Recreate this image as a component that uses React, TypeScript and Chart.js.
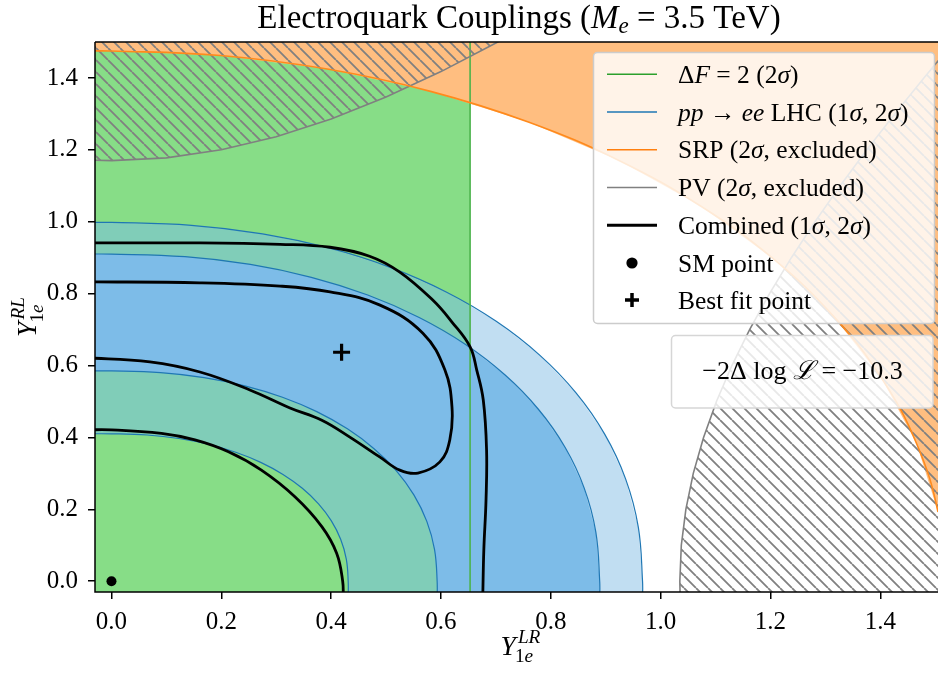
import React, { useEffect, useRef } from 'react';
import { Chart, registerables } from 'chart.js';

Chart.register(...registerables);

const FONT = '"Liberation Serif", "Times New Roman", "DejaVu Serif", serif';

// ---- axes ----
const xMin = -0.03, xMax = 1.505, yMin = -0.03, yMax = 1.5;
const xTicks = [0, 0.2, 0.4, 0.6, 0.8, 1.0, 1.2, 1.4];
const yTicks = [0, 0.2, 0.4, 0.6, 0.8, 1.0, 1.2, 1.4];

// ---- ΔF = 2 (2σ) allowed band: Y_LR < deltaFX ----
const deltaFX = 0.653;
const e4YAtDeltaF = 0.766;

// ---- pp -> ee LHC contour boundaries (quarter curves) ----
const e1X = [0, 0.0649, 0.1226, 0.1764, 0.2262, 0.2717, 0.3123, 0.3475, 0.377, 0.4004, 0.4173, 0.4276, 0.431];
const e1Y = [0.41, 0.4067, 0.397, 0.3809, 0.3587, 0.3306, 0.297, 0.2584, 0.2152, 0.1678, 0.1166, 0.0617, 0];
const e2X = [0, 0.0892, 0.1687, 0.2427, 0.3113, 0.3738, 0.4296, 0.4781, 0.5188, 0.5509, 0.5742, 0.5883, 0.593];
const e2Y = [0.585, 0.5803, 0.5665, 0.5435, 0.5118, 0.4717, 0.4238, 0.3687, 0.3071, 0.2394, 0.1664, 0.088, 0];
const e3X = [0, 0.1338, 0.2529, 0.3639, 0.4666, 0.5603, 0.6441, 0.7168, 0.7777, 0.8259, 0.8608, 0.8819, 0.889];
const e3Y = [0.91, 0.9027, 0.8812, 0.8454, 0.7961, 0.7337, 0.6593, 0.5736, 0.4777, 0.3725, 0.2589, 0.137, 0];
const e4X = [0, 0.1455, 0.2751, 0.3958, 0.5076, 0.6095, 0.7006, 0.7797, 0.8459, 0.8983, 0.9363, 0.9593, 0.967];
const e4Y = [0.998, 0.99, 0.9664, 0.9271, 0.8731, 0.8047, 0.7231, 0.629, 0.5239, 0.4085, 0.2839, 0.1502, 0];

// ---- SRP excluded (outside this curve) ----
const srpX = [0, 0.1981, 0.3929, 0.5809, 0.759, 0.9241, 1.0734, 1.2043, 1.3146, 1.4024, 1.4663, 1.505, 1.518];
const srpY = [1.475, 1.4624, 1.4247, 1.3627, 1.2774, 1.1705, 1.043, 0.898, 0.7375, 0.5645, 0.3818, 0.1925, 0];

// ---- PV excluded (two hatched regions) ----
const pvAX = [-0.05, 0, 0.1, 0.2, 0.3, 0.4, 0.5, 0.6, 0.7, 0.762];
const pvAY = [1.172, 1.17, 1.1776, 1.2001, 1.2366, 1.286, 1.3468, 1.4177, 1.4971, 1.55];
const pvBX = [1.0356, 1.0349, 1.0376, 1.0459, 1.0594, 1.0781, 1.1016, 1.1297, 1.162, 1.1982, 1.238, 1.281, 1.3269, 1.3754, 1.4263, 1.4793, 1.5065];
const pvBY = [-0.05, 0, 0.1, 0.2, 0.3, 0.4, 0.5, 0.6, 0.7, 0.8, 0.9, 1.0, 1.1, 1.2, 1.3, 1.4, 1.45];

// ---- Combined contours ----
const comb1X = [-0.05, 0.161, 0.307, 0.398, 0.489, 0.567, 0.607, 0.62, 0.616, 0.598, 0.558, 0.525, 0.489, 0.434, 0.383, 0.325, 0.252, 0.161, 0.07, -0.05];
const comb1Y = [0.833, 0.83, 0.821, 0.805, 0.768, 0.69, 0.588, 0.485, 0.393, 0.332, 0.301, 0.309, 0.345, 0.401, 0.448, 0.482, 0.532, 0.582, 0.61, 0.622];
const comb2OutX = [-0.05, 0.161, 0.307, 0.398, 0.47, 0.525, 0.585, 0.62, 0.653, 0.665, 0.677, 0.683, 0.682, 0.678, 0.676];
const comb2OutY = [0.941, 0.941, 0.937, 0.929, 0.904, 0.86, 0.782, 0.721, 0.652, 0.588, 0.504, 0.365, 0.226, 0.087, -0.05];
const comb2InX = [-0.05, 0, 0.091, 0.152, 0.213, 0.273, 0.334, 0.383, 0.41, 0.421, 0.422];
const comb2InY = [0.421, 0.421, 0.411, 0.393, 0.36, 0.309, 0.235, 0.152, 0.078, 0.0, -0.05];

// ---- points ----
const smPoint = { x: 0, y: 0 };
const bestFitPoint = { x: 0.419, y: 0.637 };
const likelihoodText = '−10.3';

type Seg = { t: string; it?: boolean; sc?: number; dy?: number };

const titleSegs: Seg[] = [
  { t: 'Electroquark Couplings (' },
  { t: 'M', it: true },
  { t: 'e', it: true, sc: 0.7, dy: 5 },
  { t: ' = 3.5 TeV)' },
];

const legendLabels: Seg[][] = [
  [{ t: 'Δ' }, { t: 'F', it: true }, { t: ' = 2 (2' }, { t: 'σ', it: true }, { t: ')' }],
  [{ t: 'pp', it: true }, { t: ' → ' }, { t: 'ee', it: true }, { t: ' LHC (1' }, { t: 'σ', it: true }, { t: ', 2' }, { t: 'σ', it: true }, { t: ')' }],
  [{ t: 'SRP (2' }, { t: 'σ', it: true }, { t: ', excluded)' }],
  [{ t: 'PV (2' }, { t: 'σ', it: true }, { t: ', excluded)' }],
  [{ t: 'Combined (1' }, { t: 'σ', it: true }, { t: ', 2' }, { t: 'σ', it: true }, { t: ')' }],
  [{ t: 'SM point' }],
  [{ t: 'Best fit point' }],
];
const legendHandles = [
  { kind: 'line', color: '#2ca02c', w: 1.5 },
  { kind: 'line', color: '#1f77b4', w: 1.5 },
  { kind: 'line', color: '#ff7f0e', w: 1.5 },
  { kind: 'line', color: '#808080', w: 1.5 },
  { kind: 'line', color: '#000000', w: 3 },
  { kind: 'dot', color: '#000000', w: 0 },
  { kind: 'plus', color: '#000000', w: 3.5 },
];

const annotSegs: Seg[] = [{ t: '−2Δ log ' }, { t: 'ℒ', it: true }, { t: ' = ' + likelihoodText }];

const COL = {
  green: '#87dd87',
  teal: '#80cdb8',
  blue: '#7dbce8',
  lightBlue: '#c1def2',
  orange: '#ffbe80',
  blueLine: '#1f77b4',
  greenLine: '#4cb34c',
  orangeLine: '#ff8a1c',
  gray: '#808080',
};

const P = (xs: number[], ys: number[]) => xs.map((x, i) => ({ x, y: ys[i] }));

function fontOf(size: number, s: Seg) {
  return `${s.it ? 'italic ' : ''}${(size * (s.sc ?? 1)).toFixed(1)}px ${FONT}`;
}

function drawRich(ctx: CanvasRenderingContext2D, segs: Seg[], x: number, y: number, size: number, align: string) {
  let w = 0;
  const ws: number[] = [];
  for (const s of segs) {
    ctx.font = fontOf(size, s);
    const m = ctx.measureText(s.t).width;
    ws.push(m);
    w += m;
  }
  let cx = align === 'center' ? x - w / 2 : x;
  ctx.textAlign = 'left';
  ctx.textBaseline = 'alphabetic';
  ctx.fillStyle = '#000';
  segs.forEach((s, i) => {
    ctx.font = fontOf(size, s);
    ctx.fillText(s.t, cx, y + (s.dy ?? 0));
    cx += ws[i];
  });
}

function drawAxisSym(ctx: CanvasRenderingContext2D, sup: string, x: number, y: number, size: number) {
  const base: Seg = { t: 'Y', it: true };
  const supS: Seg = { t: sup, it: true, sc: 0.7 };
  const one: Seg = { t: '1', sc: 0.7 };
  const e: Seg = { t: 'e', it: true, sc: 0.7 };
  ctx.font = fontOf(size, base);
  const wb = ctx.measureText('Y').width;
  ctx.font = fontOf(size, supS);
  const wsup = ctx.measureText(sup).width;
  ctx.font = fontOf(size, one);
  const w1 = ctx.measureText('1').width;
  ctx.font = fontOf(size, e);
  const we = ctx.measureText('e').width;
  const total = wb + Math.max(wsup + 2, w1 + we);
  const x0 = x - total / 2;
  ctx.textAlign = 'left';
  ctx.textBaseline = 'alphabetic';
  ctx.fillStyle = '#000';
  ctx.font = fontOf(size, base);
  ctx.fillText('Y', x0, y);
  ctx.font = fontOf(size, supS);
  ctx.fillText(sup, x0 + wb + 2, y - 12);
  ctx.font = fontOf(size, one);
  ctx.fillText('1', x0 + wb - 1, y + 7);
  ctx.font = fontOf(size, e);
  ctx.fillText('e', x0 + wb - 1 + w1, y + 7);
}

function roundBox(ctx: CanvasRenderingContext2D, x: number, y: number, w: number, h: number, r: number, stroke: string) {
  ctx.beginPath();
  ctx.moveTo(x + r, y);
  ctx.lineTo(x + w - r, y);
  ctx.arcTo(x + w, y, x + w, y + r, r);
  ctx.lineTo(x + w, y + h - r);
  ctx.arcTo(x + w, y + h, x + w - r, y + h, r);
  ctx.lineTo(x + r, y + h);
  ctx.arcTo(x, y + h, x, y + h - r, r);
  ctx.lineTo(x, y + r);
  ctx.arcTo(x, y, x + r, y, r);
  ctx.closePath();
  ctx.fillStyle = 'rgba(255,255,255,0.82)';
  ctx.fill();
  ctx.strokeStyle = stroke;
  ctx.lineWidth = 1.5;
  ctx.stroke();
}

const decor = {
  id: 'decor',
  afterDatasetsDraw(chart: any) {
    const ctx: CanvasRenderingContext2D = chart.ctx;
    const a = chart.chartArea;
    ctx.save();
    // legend
    const lx = a.right - 344.5, ly = a.top + 10.5;
    roundBox(ctx, lx, ly, 341, 271, 4, '#cccccc');
    const rows = [74.3, 112, 149.7, 187.5, 225.3, 263, 300];
    legendHandles.forEach((h, i) => {
      const yy = rows[i] - 42 + a.top;
      const hx0 = lx + 13.5, hx1 = lx + 63.5, hc = (hx0 + hx1) / 2;
      ctx.strokeStyle = h.color;
      ctx.fillStyle = h.color;
      if (h.kind === 'line') {
        ctx.lineWidth = h.w;
        ctx.beginPath();
        ctx.moveTo(hx0, yy);
        ctx.lineTo(hx1, yy);
        ctx.stroke();
      } else if (h.kind === 'dot') {
        ctx.beginPath();
        ctx.arc(hc, yy, 5.6, 0, Math.PI * 2);
        ctx.fill();
      } else {
        ctx.lineWidth = h.w;
        ctx.beginPath();
        ctx.moveTo(hc - 7, yy);
        ctx.lineTo(hc + 7, yy);
        ctx.moveTo(hc, yy - 7);
        ctx.lineTo(hc, yy + 7);
        ctx.stroke();
      }
      drawRich(ctx, legendLabels[i], lx + 84.5, yy + 8.5, 25.5, 'left');
    });
    // annotation box
    const bx = a.right - 266.5, by = a.top + 293.5;
    roundBox(ctx, bx, by, 261.5, 72.5, 4, '#d6d6d6');
    drawRich(ctx, annotSegs, bx + 131, by + 43.5, 26, 'center');
    ctx.restore();
  },
  afterDraw(chart: any) {
    const ctx: CanvasRenderingContext2D = chart.ctx;
    const a = chart.chartArea;
    ctx.save();
    ctx.strokeStyle = '#000';
    ctx.lineWidth = 1.5;
    ctx.beginPath();
    ctx.moveTo(a.left, a.top);
    ctx.lineTo(a.right + 2, a.top);
    ctx.moveTo(a.left, a.top);
    ctx.lineTo(a.left, a.bottom);
    ctx.lineTo(a.right + 2, a.bottom);
    ctx.stroke();
    // title
    drawRich(ctx, titleSegs, 519, 28, 33, 'center');
    // x label
    drawAxisSym(ctx, 'LR', (a.left + a.right) / 2 + 4, 655, 27.5);
    // y label
    ctx.save();
    ctx.translate(36, (a.top + a.bottom) / 2);
    ctx.rotate(-Math.PI / 2);
    drawAxisSym(ctx, 'RL', 0, 0, 27.5);
    ctx.restore();
    ctx.restore();
  },
};

export default function App() {
  const ref = useRef<HTMLCanvasElement>(null);
  useEffect(() => {
    document.body.style.margin = '0';
    const canvas = ref.current as HTMLCanvasElement;
    const ctx = canvas.getContext('2d') as CanvasRenderingContext2D;

    const pc = document.createElement('canvas');
    pc.width = 12;
    pc.height = 12;
    const pctx = pc.getContext('2d') as CanvasRenderingContext2D;
    pctx.strokeStyle = COL.gray;
    pctx.lineWidth = 1.8;
    pctx.beginPath();
    for (const k of [-12, 0, 12]) {
      pctx.moveTo(k, 0);
      pctx.lineTo(k + 12, 12);
    }
    pctx.stroke();
    const hatch = ctx.createPattern(pc, 'repeat') as CanvasPattern;

    const fillDs = (data: any[], color: any, order: number) => ({
      data, backgroundColor: color, borderColor: 'transparent', borderWidth: 0,
      fill: 'shape', pointRadius: 0, tension: 0, order,
    });
    const lineDs = (data: any[], color: string, width: number, order: number, tension = 0) => ({
      data, borderColor: color, borderWidth: width, backgroundColor: 'transparent',
      fill: false, pointRadius: 0, tension, order,
    });
    const ellFill = (xs: number[], ys: number[]) => [
      { x: -0.05, y: ys[0] }, ...P(xs, ys), { x: xs[xs.length - 1], y: -0.05 }, { x: -0.05, y: -0.05 },
    ];
    const ellLine = (xs: number[], ys: number[]) => [
      { x: -0.05, y: ys[0] }, ...P(xs, ys), { x: xs[xs.length - 1], y: -0.05 },
    ];

    const greenBand = [
      { x: deltaFX, y: -0.05 }, { x: -0.05, y: -0.05 }, { x: -0.05, y: 1.6 }, { x: deltaFX, y: 1.6 },
    ];
    const e4InBand = [
      { x: -0.05, y: e4Y[0] },
      ...P(e4X, e4Y).filter((p) => p.x < deltaFX),
      { x: deltaFX, y: e4YAtDeltaF },
      { x: deltaFX, y: -0.05 },
      { x: -0.05, y: -0.05 },
    ];
    const srpPoly = [
      { x: -0.05, y: srpY[0] }, ...P(srpX, srpY), { x: 1.6, y: -0.05 }, { x: 1.6, y: 1.6 }, { x: -0.05, y: 1.6 },
    ];
    const srpLine = [{ x: -0.05, y: srpY[0] }, ...P(srpX, srpY)];
    const pvAPoly = [...P(pvAX, pvAY), { x: -0.05, y: 1.6 }];
    const pvBPoly = [{ x: 1.6, y: -0.05 }, ...P(pvBX, pvBY), { x: 1.6, y: 1.45 }];

    const datasets: any[] = [
      fillDs(greenBand, COL.green, 30),
      fillDs(ellFill(e4X, e4Y), COL.lightBlue, 29),
      fillDs(e4InBand, COL.teal, 28),
      fillDs(ellFill(e3X, e3Y), COL.blue, 27),
      fillDs(ellFill(e2X, e2Y), COL.teal, 26),
      fillDs(ellFill(e1X, e1Y), COL.green, 25),
      fillDs(srpPoly, COL.orange, 24),
      lineDs(ellLine(e1X, e1Y), COL.blueLine, 1.2, 20, 0.4),
      lineDs(ellLine(e2X, e2Y), COL.blueLine, 1.2, 20, 0.4),
      lineDs(ellLine(e3X, e3Y), COL.blueLine, 1.2, 20, 0.4),
      lineDs(ellLine(e4X, e4Y), COL.blueLine, 1.2, 20, 0.4),
      lineDs([{ x: deltaFX, y: -0.05 }, { x: deltaFX, y: 1.6 }], COL.greenLine, 1.6, 18),
      { ...fillDs(pvAPoly, hatch, 16), borderColor: COL.gray, borderWidth: 1.6 },
      { ...fillDs(pvBPoly, hatch, 15), borderColor: COL.gray, borderWidth: 1.6 },
      lineDs(srpLine, COL.orangeLine, 1.6, 14, 0.4),
      lineDs(P(comb1X, comb1Y), '#000', 2.8, 10, 0.4),
      lineDs(P(comb2OutX, comb2OutY), '#000', 2.8, 10, 0.4),
      lineDs(P(comb2InX, comb2InY), '#000', 2.8, 10, 0.4),
      {
        data: [smPoint], showLine: false, pointRadius: 5, pointStyle: 'circle',
        pointBackgroundColor: '#000', pointBorderColor: '#000', pointBorderWidth: 0, order: 2,
      },
      {
        data: [bestFitPoint], showLine: false, pointRadius: 8.5, pointStyle: 'cross',
        pointBorderColor: '#000', pointBorderWidth: 3.2, order: 1,
      },
    ];

    const tickFont = { family: FONT, size: 25 };
    const chart = new Chart(canvas, {
      type: 'line',
      data: { datasets },
      options: {
        responsive: false,
        maintainAspectRatio: false,
        devicePixelRatio: 1,
        animation: false,
        events: [],
        layout: { autoPadding: false, padding: { top: 42, left: 0, right: 0, bottom: 0 } },
        plugins: {
          legend: { display: false },
          tooltip: { enabled: false },
          title: { display: false },
          filler: { propagate: false },
        },
        scales: {
          x: {
            type: 'linear',
            min: xMin,
            max: xMax,
            border: { display: false },
            grid: { drawOnChartArea: false, drawTicks: true, tickLength: 7, color: '#000', lineWidth: 1.5 },
            ticks: {
              autoSkip: false, maxRotation: 0, padding: 8, color: '#000', font: tickFont,
              callback: (v: any) => Number(v).toFixed(1),
            },
            afterBuildTicks: (s: any) => { s.ticks = xTicks.map((v) => ({ value: v })); },
            afterFit: (s: any) => { s.height = 81; s.paddingLeft = 0; s.paddingRight = 0; },
          },
          y: {
            type: 'linear',
            min: yMin,
            max: yMax,
            border: { display: false },
            grid: { drawOnChartArea: false, drawTicks: true, tickLength: 7, color: '#000', lineWidth: 1.5 },
            ticks: {
              autoSkip: false, padding: 10, color: '#000', font: tickFont,
              callback: (v: any) => Number(v).toFixed(1),
            },
            afterBuildTicks: (s: any) => { s.ticks = yTicks.map((v) => ({ value: v })); },
            afterFit: (s: any) => { s.width = 95; s.paddingTop = 0; s.paddingBottom = 0; },
          },
        },
      } as any,
      plugins: [decor],
    });
    return () => chart.destroy();
  }, []);

  return (
    <div style={{ width: 938, height: 673 }}>
      <canvas ref={ref} width={938} height={673} style={{ display: 'block' }} />
    </div>
  );
}
